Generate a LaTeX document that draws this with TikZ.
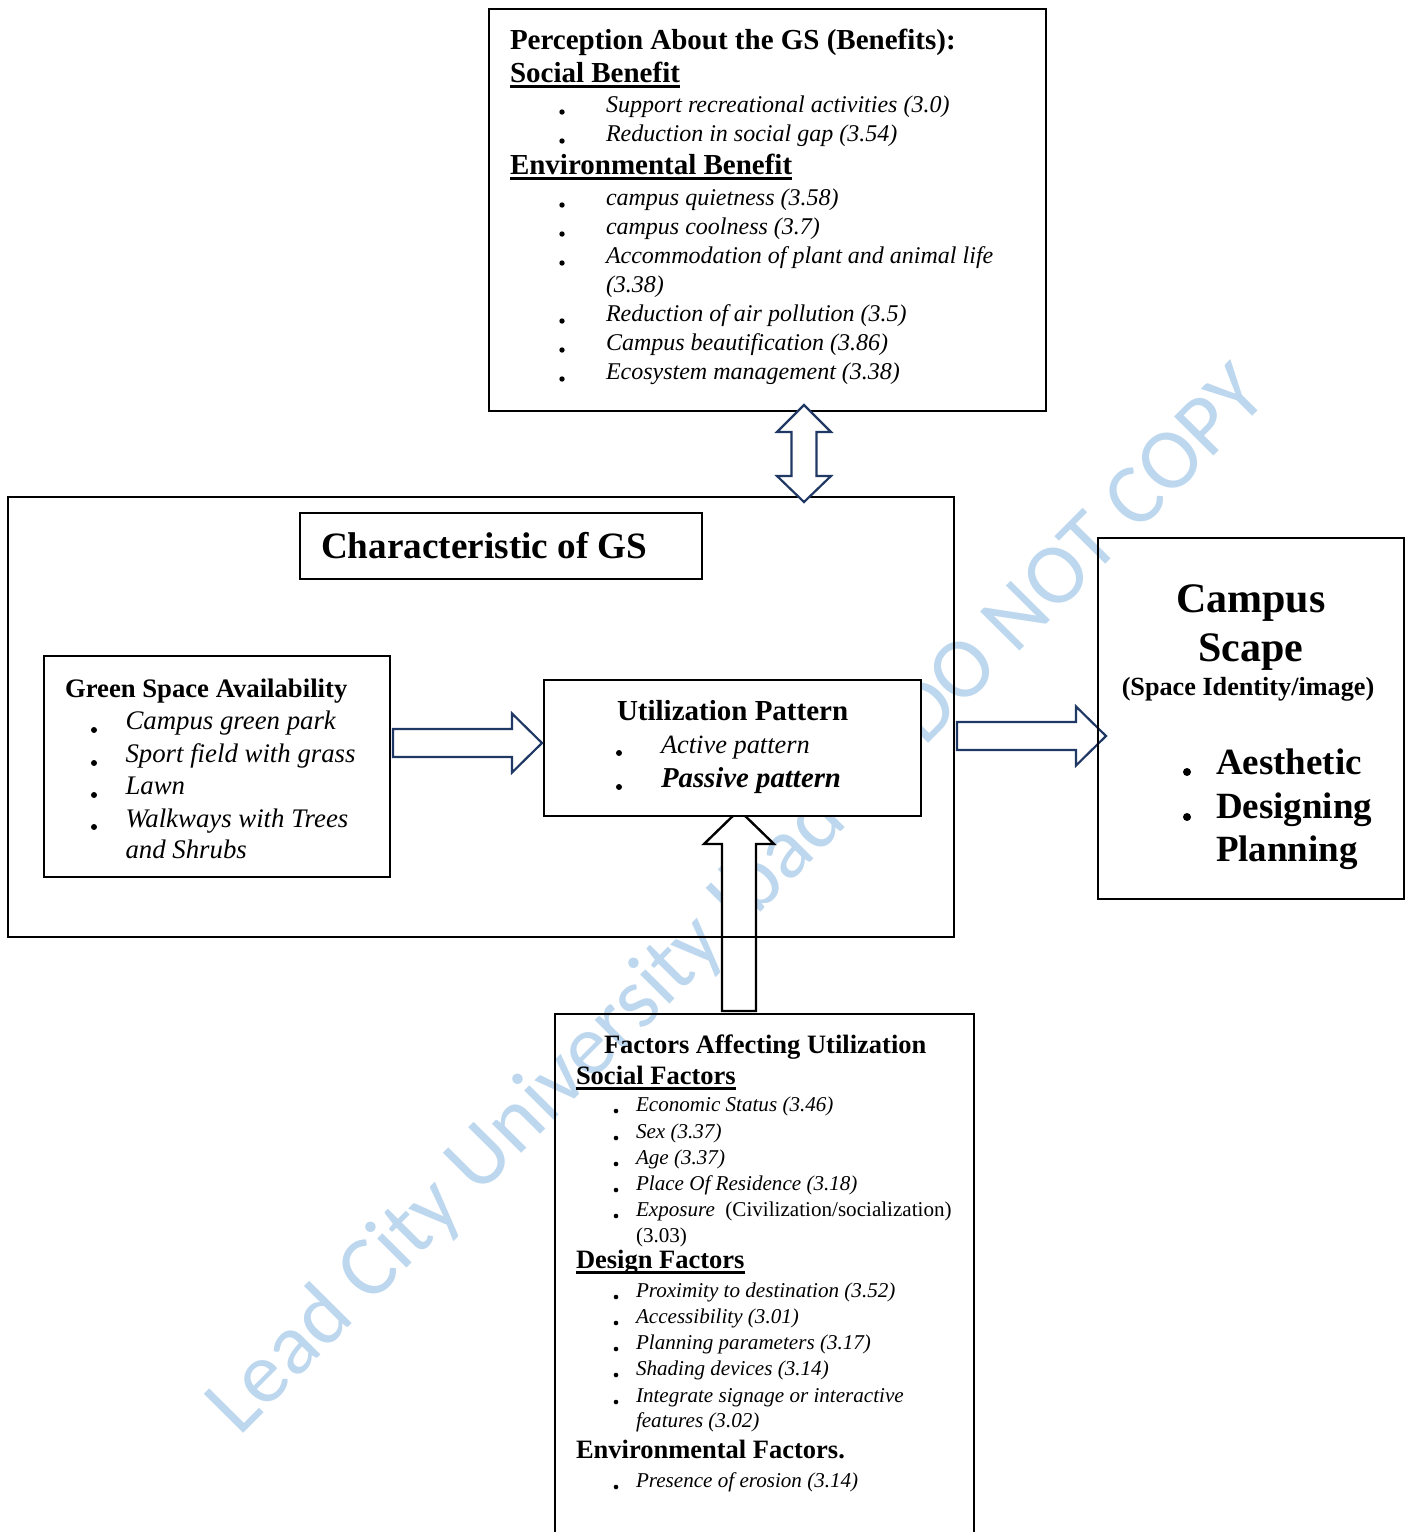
\documentclass[tikz,border=0pt]{standalone}
\usepackage{fontspec}
\setmainfont{Liberation Serif}
\newfontfamily\wmfont{Carlito}
\usetikzlibrary{calc}
\definecolor{navy}{HTML}{1F3864}
\definecolor{wmblue}{RGB}{189,215,238}
\newcommand\fs[1]{\fontsize{#1}{#1}\selectfont}
% bullet dot: x, y, radius
\newcommand\bdot[3]{\fill (#1,#2) circle[radius=#3pt];}
% underline under a named text node
\newcommand\ulnode[1]{\draw[line width=2.2pt] ([yshift=-4.5pt]#1.base west) -- ([yshift=-4.5pt]#1.base east);}
\begin{document}
\begin{tikzpicture}[x=1pt,y=-1pt,
  frame/.style={draw, line width=2.4pt, inner sep=0pt, outer sep=0pt},
  ln/.style={anchor=base west, inner sep=0pt, outer sep=0pt},
  hdP/.style={ln, font=\fs{29}\bfseries},
  itP/.style={ln, font=\fs{24}\itshape},
  hdG/.style={ln, font=\fs{26.7}\bfseries},
  itG/.style={ln, font=\fs{26.8}\itshape},
  hdF/.style={ln, font=\fs{26.5}\bfseries},
  itF/.style={ln, font=\fs{21.1}\itshape},
  csbig/.style={anchor=base, inner sep=0pt, font=\fs{42}\bfseries},
  cssub/.style={anchor=base, inner sep=0pt, font=\fs{26.2}\bfseries},
  csitem/.style={ln, font=\fs{37}\bfseries},
  barrow/.style={draw=navy, fill=white, line width=2.2pt, line join=miter},
  karrow/.style={draw=black, fill=white, line width=2.4pt, line join=miter},
  wm/.style={anchor=base, rotate=45.2, text=wmblue, font=\wmfont\fs{86.5}, inner sep=0pt},
  harrow/.pic={\draw[barrow] (0,-14) -- (119,-14) -- (119,-29.5) -- (149,0) -- (119,29.5) -- (119,14) -- (0,14) -- cycle;},
  dblarrow/.pic={\draw[barrow] (0,-48.5) -- (27,-21.5) -- (12.5,-21.5) -- (12.5,22.5) -- (27,22.5) -- (0,48.5) -- (-27,22.5) -- (-12.5,22.5) -- (-12.5,-21.5) -- (-27,-21.5) -- cycle;},
  uparrow/.pic={\draw[karrow] (-17,0) -- (-17,-167) -- (-35,-167) -- (0,-201) -- (35,-167) -- (17,-167) -- (17,0) -- cycle;}
]
\useasboundingbox (0,0) rectangle (1407,1532);
\clip (0,0) rectangle (1407,1532);

% watermark
\node[wm] (wmk) at (755,918) {Lead City University Ibadan DO NOT COPY};

% frames
\node[frame, minimum width=557pt, minimum height=402pt] (pb) at (767.5,210) {};
\node[frame, minimum width=419pt, minimum height=552pt] (fa) at (764.5,1290) {};
\node[frame, minimum width=346pt, minimum height=221pt] (ga) at (217,766.5) {};
\node[frame, line width=1.5pt, minimum width=402pt, minimum height=66pt] (ctb) at (501,546) {};

% arrows into the utilization pattern
\pic (ua) at ($(fa.north)+(-25.5,-3)$) {uparrow};
\node[frame, minimum width=946pt, minimum height=440pt] (big) at (481,717) {};
\node[frame, fill=white, minimum width=377pt, minimum height=136pt] (up) at (732.5,748) {};
\pic (a1) at ($(ga.east)+(3,-23.5)$) {harrow};
\pic (a2) at ($(big.east)+(3,19)$) {harrow};
\node[frame, minimum width=306pt, minimum height=361pt] (cs) at (1251,718.5) {};
\pic (da) at ($(pb.south)+(36.5,42.5)$) {dblarrow};

% perception box
\node[hdP] (pt) at (510,49) {Perception About the GS (Benefits):};
\node[hdP] (ps) at (510,82) {Social Benefit}; \ulnode{ps}
\bdot{562}{112}{2.7} \node[itP] (p1) at (606,112) {Support recreational activities (3.0)};
\bdot{562}{141}{2.7} \node[itP] (p2) at (606,141) {Reduction in social gap (3.54)};
\node[hdP] (pe) at (510,174) {Environmental Benefit}; \ulnode{pe}
\bdot{562}{205}{2.7} \node[itP] (p3) at (606,205) {campus quietness (3.58)};
\bdot{562}{234}{2.7} \node[itP] (p4) at (606,234) {campus coolness (3.7)};
\bdot{562}{263}{2.7} \node[itP] (p5) at (606,263) {Accommodation of plant and animal life};
\node[itP] (p5b) at (606,292) {(3.38)};
\bdot{562}{321}{2.7} \node[itP] (p6) at (606,321) {Reduction of air pollution (3.5)};
\bdot{562}{350}{2.7} \node[itP] (p7) at (606,350) {Campus beautification (3.86)};
\bdot{562}{379}{2.7} \node[itP] (p8) at (606,379) {Ecosystem management (3.38)};

% characteristic of GS
\node[ln, font=\fs{37.2}\bfseries] (ct) at (321,558) {Characteristic of GS};

% green space availability
\node[hdG] (gt) at (65,697) {Green Space Availability};
\bdot{94}{730}{3} \node[itG] (g1) at (125.5,729) {Campus green park};
\bdot{94}{763}{3} \node[itG] (g2) at (125.5,762) {Sport field with grass};
\bdot{94}{795}{3} \node[itG] (g3) at (125.5,794) {Lawn};
\bdot{94}{827}{3} \node[itG] (g4) at (125.5,827) {Walkways with Trees};
\node[itG] (g4b) at (125.5,858) {and Shrubs};

% utilization pattern
\node[ln, font=\fs{29}\bfseries] (ut) at (617,720) {Utilization Pattern};
\bdot{619}{753}{3} \node[ln, font=\fs{26.4}\itshape] (u1) at (661,753) {Active pattern};
\bdot{619}{787}{3} \node[ln, font=\fs{28.8}\bfseries\itshape] (u2) at (661,787) {Passive pattern};

% campus scape
\node[csbig] (c1) at (1251,612) {Campus};
\node[csbig] (c2) at (1251,661) {Scape};
\node[cssub] (c3) at (1248,695) {(Space Identity/image)};
\bdot{1187}{772}{4} \node[csitem] (c4) at (1216,774) {Aesthetic};
\bdot{1187}{817}{4} \node[csitem] (c5) at (1216,818) {Designing};
\node[csitem] (c6) at (1216,861) {Planning};

% factors affecting utilization
\node[hdF] (ft) at (604,1053) {Factors Affecting Utilization};
\node[hdF] (fs) at (576,1084) {Social Factors}; \ulnode{fs}
\bdot{616}{1111}{2.3} \node[itF] (f1) at (636,1111) {Economic Status (3.46)};
\bdot{616}{1138}{2.3} \node[itF] (f2) at (636,1138) {Sex (3.37)};
\bdot{616}{1164}{2.3} \node[itF] (f3) at (636,1164) {Age (3.37)};
\bdot{616}{1190}{2.3} \node[itF] (f4) at (636,1190) {Place Of Residence (3.18)};
\bdot{616}{1216}{2.3} \node[itF] (f5) at (636,1216) {Exposure\ \ \upshape(Civilization/socialization)};
\node[ln, font=\fs{21.1}] (f5b) at (636,1242) {(3.03)};
\node[hdF] (fd) at (576,1268) {Design Factors}; \ulnode{fd}
\bdot{616}{1297}{2.3} \node[itF] (f6) at (636,1297) {Proximity to destination (3.52)};
\bdot{616}{1323}{2.3} \node[itF] (f7) at (636,1323) {Accessibility (3.01)};
\bdot{616}{1349}{2.3} \node[itF] (f8) at (636,1349) {Planning parameters (3.17)};
\bdot{616}{1375}{2.3} \node[itF] (f9) at (636,1375) {Shading devices (3.14)};
\bdot{616}{1402}{2.3} \node[itF] (f10) at (636,1402) {Integrate signage or interactive};
\node[itF] (f10b) at (636,1427) {features (3.02)};
\node[hdF] (fe) at (576,1458) {Environmental Factors.};
\bdot{616}{1487}{2.3} \node[itF] (f11) at (636,1487) {Presence of erosion (3.14)};
\end{tikzpicture}
\end{document}
